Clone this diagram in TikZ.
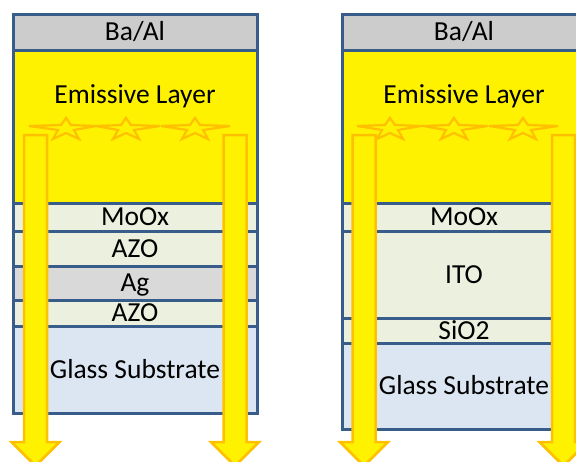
\documentclass[tikz,border=0pt]{standalone}
\usepackage{fontspec}
\setmainfont{Carlito}
\usetikzlibrary{positioning}

\definecolor{edgeblue}{RGB}{56,93,138}
\definecolor{gloworange}{RGB}{255,192,0}
\definecolor{oxgreen}{RGB}{235,241,222}
\definecolor{capgray}{RGB}{204,204,204}
\definecolor{aggray}{RGB}{217,217,217}
\definecolor{glassblue}{RGB}{220,230,242}

\begin{document}
\begin{tikzpicture}[x=1pt, y=-1pt, every node/.style={font=\fontsize{27.5}{32}\selectfont},
	layer/.style={draw=edgeblue, line width=3pt, minimum width=244pt, inner sep=0pt, outer sep=0pt, text height=17pt, text depth=0pt},
	ray/.style={fill=yellow, draw=gloworange, line width=2.5pt},
	starline/.style={draw=gloworange, line width=2.2pt, line join=miter}]
	\useasboundingbox (0,0) rectangle (576,461);
	\clip (0,0) rectangle (576,461);
	% AZO/Ag/AZO stack
	\node[layer, fill=capgray, minimum height=36pt, anchor=north west] (baal1) at (13,14) {Ba/Al};
	\node[layer, fill=yellow, minimum height=153pt, below=0pt of baal1] (eml1) {};
	\node[layer, fill=oxgreen, minimum height=28pt, below=0pt of eml1] (moox1) {MoOx};
	\node[layer, fill=oxgreen, minimum height=35pt, below=0pt of moox1] (azo1) {AZO};
	\node[layer, fill=aggray, minimum height=34pt, below=0pt of azo1] (ag1) {Ag};
	\node[layer, fill=oxgreen, minimum height=26pt, below=0pt of ag1] (azo2) {AZO};
	\node[layer, fill=glassblue, minimum height=87pt, below=0pt of azo2] (glass1) {Glass Substrate};
	\node (emtext1) at ([yshift=-46pt]eml1.north) {Emissive Layer};
	% ITO stack
	\node[layer, fill=capgray, minimum height=36pt, anchor=north west] (baal2) at (342,14) {Ba/Al};
	\node[layer, fill=yellow, minimum height=153pt, below=0pt of baal2] (eml2) {};
	\node[layer, fill=oxgreen, minimum height=28pt, below=0pt of eml2] (moox2) {MoOx};
	\node[layer, fill=oxgreen, minimum height=87pt, below=0pt of moox2] (ito2) {ITO};
	\node[layer, fill=oxgreen, minimum height=25pt, below=0pt of ito2] (sio2) {SiO2};
	\node[layer, fill=glassblue, minimum height=86pt, below=0pt of sio2] (glass2) {Glass Substrate};
	\node (emtext2) at ([yshift=-46pt]eml2.north) {Emissive Layer};
	% emitters
	\foreach \cx/\la/\ra in {66/37/30, 126/30/34, 195/34/35, 390/33/31, 454/31/34, 523/34/35}
		\draw[starline] (\cx,118) -- (\cx+5,125) -- (\cx+\ra,126) -- (\cx+8,130) -- (\cx+13,139)
			-- (\cx,133) -- (\cx-13,139) -- (\cx-8,130) -- (\cx-\la,126) -- (\cx-5,125) -- cycle;
	% outcoupled light
	\foreach \ax in {35.5, 235, 364, 563.5}
		\draw[ray] (\ax-11.5,135) -- (\ax+11.5,135) -- (\ax+11.5,442) -- (\ax+24,442)
			-- (\ax,466) -- (\ax-24,442) -- (\ax-11.5,442) -- cycle;
\end{tikzpicture}
\end{document}
